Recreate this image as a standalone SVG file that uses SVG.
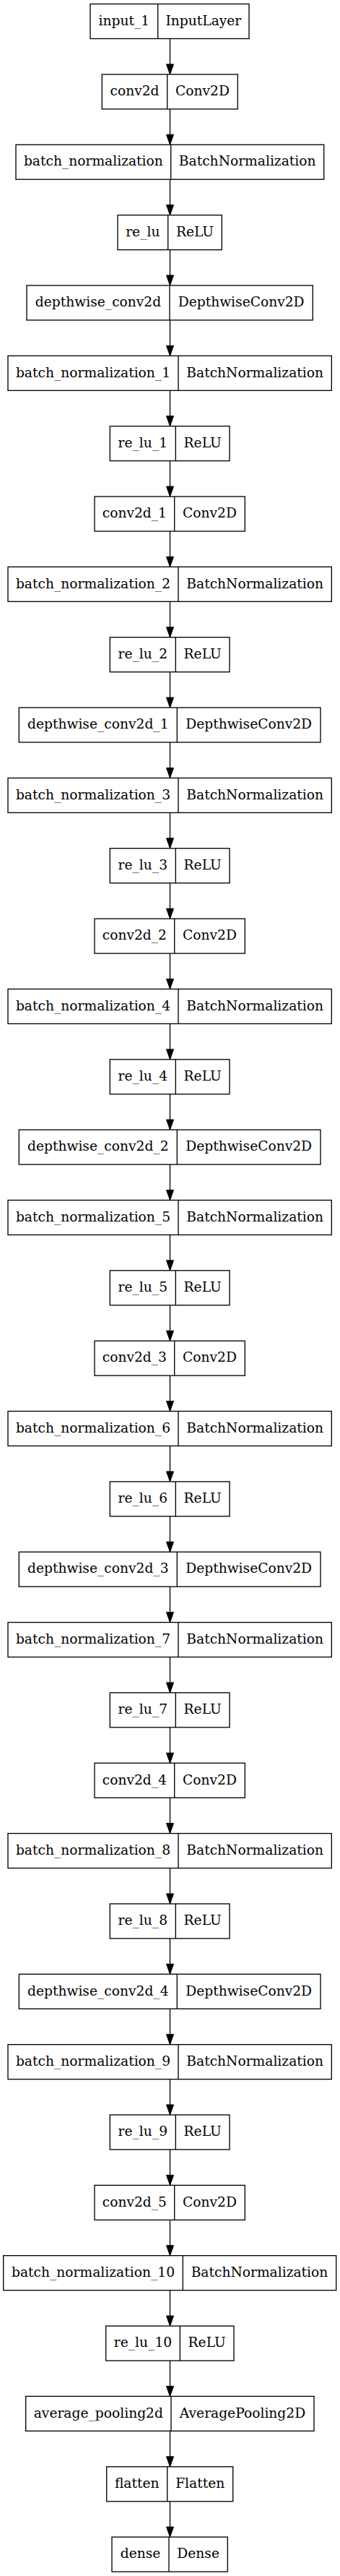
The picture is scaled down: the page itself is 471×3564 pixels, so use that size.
<svg xmlns="http://www.w3.org/2000/svg" width="471" height="3564" viewBox="0 0 471 3564">
<defs>
<style>
.n rect{fill:#fff;stroke:#000;stroke-width:1.33}
.n line{stroke:#000;stroke-width:1.33}
.n text{font-family:"DejaVu Serif",serif;font-size:18.67px;text-anchor:middle;fill:#000}
#edges path{fill:none;stroke:#000;stroke-width:1.33;marker-end:url(#ah)}
</style>
<marker id="ah" markerUnits="userSpaceOnUse" markerWidth="14" markerHeight="10" refX="14" refY="5" orient="auto" overflow="visible"><path d="M0,0L14,5L0,10z" fill="#000" stroke="#000" stroke-width="1"/></marker>
</defs>
<rect width="471" height="3564" fill="#fff"/>
<g id="edges">
<path d="M235.5,53.5V102.9"/>
<path d="M235.5,150.9V200.2"/>
<path d="M235.5,248.2V297.6"/>
<path d="M235.5,345.6V394.9"/>
<path d="M235.5,442.9V492.3"/>
<path d="M235.5,540.3V589.6"/>
<path d="M235.5,637.6V687"/>
<path d="M235.5,735V784.3"/>
<path d="M235.5,832.3V881.7"/>
<path d="M235.5,929.7V979"/>
<path d="M235.5,1027V1076.4"/>
<path d="M235.5,1124.4V1173.7"/>
<path d="M235.5,1221.7V1271.1"/>
<path d="M235.5,1319.1V1368.4"/>
<path d="M235.5,1416.4V1465.8"/>
<path d="M235.5,1513.8V1563.1"/>
<path d="M235.5,1611.1V1660.5"/>
<path d="M235.5,1708.5V1757.8"/>
<path d="M235.5,1805.8V1855.2"/>
<path d="M235.5,1903.2V1952.5"/>
<path d="M235.5,2000.5V2049.9"/>
<path d="M235.5,2097.9V2147.2"/>
<path d="M235.5,2195.2V2244.6"/>
<path d="M235.5,2292.6V2341.9"/>
<path d="M235.5,2389.9V2439.3"/>
<path d="M235.5,2487.3V2536.6"/>
<path d="M235.5,2584.6V2634"/>
<path d="M235.5,2682V2731.3"/>
<path d="M235.5,2779.3V2828.7"/>
<path d="M235.5,2876.7V2926"/>
<path d="M235.5,2974V3023.4"/>
<path d="M235.5,3071.4V3120.7"/>
<path d="M235.5,3168.7V3218.1"/>
<path d="M235.5,3266.1V3315.4"/>
<path d="M235.5,3363.4V3412.8"/>
<path d="M235.5,3460.8V3510.1"/>
</g>
<g id="input_1" class="n" transform="translate(0,5.5)"><rect x="125" y="0" width="220" height="48"/><line x1="218.7" y1="0" x2="218.7" y2="48"/><text x="171.85" y="29.3">input_1</text><text x="281.85" y="29.3">InputLayer</text></g>
<g id="conv2d" class="n" transform="translate(0,102.9)"><rect x="141.3" y="0" width="188" height="48"/><line x1="231.7" y1="0" x2="231.7" y2="48"/><text x="186.5" y="29.3">conv2d</text><text x="280.5" y="29.3">Conv2D</text></g>
<g id="batch_normalization" class="n" transform="translate(0,200.2)"><rect x="22" y="0" width="426.7" height="48"/><line x1="236.7" y1="0" x2="236.7" y2="48"/><text x="129.35" y="29.3">batch_normalization</text><text x="342.7" y="29.3">BatchNormalization</text></g>
<g id="re_lu" class="n" transform="translate(0,297.6)"><rect x="163" y="0" width="144.3" height="48"/><line x1="232.7" y1="0" x2="232.7" y2="48"/><text x="197.85" y="29.3">re_lu</text><text x="270" y="29.3">ReLU</text></g>
<g id="depthwise_conv2d" class="n" transform="translate(0,394.9)"><rect x="37" y="0" width="396.3" height="48"/><line x1="235" y1="0" x2="235" y2="48"/><text x="136" y="29.3">depthwise_conv2d</text><text x="334.15" y="29.3">DepthwiseConv2D</text></g>
<g id="batch_normalization_1" class="n" transform="translate(0,492.3)"><rect x="11" y="0" width="448.3" height="48"/><line x1="247" y1="0" x2="247" y2="48"/><text x="129" y="29.3">batch_normalization_1</text><text x="353.15" y="29.3">BatchNormalization</text></g>
<g id="re_lu_1" class="n" transform="translate(0,589.6)"><rect x="152.3" y="0" width="165.7" height="48"/><line x1="243.3" y1="0" x2="243.3" y2="48"/><text x="197.8" y="29.3">re_lu_1</text><text x="280.65" y="29.3">ReLU</text></g>
<g id="conv2d_1" class="n" transform="translate(0,687)"><rect x="131" y="0" width="208.3" height="48"/><line x1="241.7" y1="0" x2="241.7" y2="48"/><text x="186.35" y="29.3">conv2d_1</text><text x="290.5" y="29.3">Conv2D</text></g>
<g id="batch_normalization_2" class="n" transform="translate(0,784.3)"><rect x="11" y="0" width="448.3" height="48"/><line x1="247" y1="0" x2="247" y2="48"/><text x="129" y="29.3">batch_normalization_2</text><text x="353.15" y="29.3">BatchNormalization</text></g>
<g id="re_lu_2" class="n" transform="translate(0,881.7)"><rect x="152.3" y="0" width="165.7" height="48"/><line x1="243.3" y1="0" x2="243.3" y2="48"/><text x="197.8" y="29.3">re_lu_2</text><text x="280.65" y="29.3">ReLU</text></g>
<g id="depthwise_conv2d_1" class="n" transform="translate(0,979)"><rect x="26.3" y="0" width="417.7" height="48"/><line x1="245.3" y1="0" x2="245.3" y2="48"/><text x="135.8" y="29.3">depthwise_conv2d_1</text><text x="344.65" y="29.3">DepthwiseConv2D</text></g>
<g id="batch_normalization_3" class="n" transform="translate(0,1076.4)"><rect x="11" y="0" width="448.3" height="48"/><line x1="247" y1="0" x2="247" y2="48"/><text x="129" y="29.3">batch_normalization_3</text><text x="353.15" y="29.3">BatchNormalization</text></g>
<g id="re_lu_3" class="n" transform="translate(0,1173.7)"><rect x="152.3" y="0" width="165.7" height="48"/><line x1="243.3" y1="0" x2="243.3" y2="48"/><text x="197.8" y="29.3">re_lu_3</text><text x="280.65" y="29.3">ReLU</text></g>
<g id="conv2d_2" class="n" transform="translate(0,1271.1)"><rect x="131" y="0" width="208.3" height="48"/><line x1="241.7" y1="0" x2="241.7" y2="48"/><text x="186.35" y="29.3">conv2d_2</text><text x="290.5" y="29.3">Conv2D</text></g>
<g id="batch_normalization_4" class="n" transform="translate(0,1368.4)"><rect x="11" y="0" width="448.3" height="48"/><line x1="247" y1="0" x2="247" y2="48"/><text x="129" y="29.3">batch_normalization_4</text><text x="353.15" y="29.3">BatchNormalization</text></g>
<g id="re_lu_4" class="n" transform="translate(0,1465.8)"><rect x="152.3" y="0" width="165.7" height="48"/><line x1="243.3" y1="0" x2="243.3" y2="48"/><text x="197.8" y="29.3">re_lu_4</text><text x="280.65" y="29.3">ReLU</text></g>
<g id="depthwise_conv2d_2" class="n" transform="translate(0,1563.1)"><rect x="26.3" y="0" width="417.7" height="48"/><line x1="245.3" y1="0" x2="245.3" y2="48"/><text x="135.8" y="29.3">depthwise_conv2d_2</text><text x="344.65" y="29.3">DepthwiseConv2D</text></g>
<g id="batch_normalization_5" class="n" transform="translate(0,1660.5)"><rect x="11" y="0" width="448.3" height="48"/><line x1="247" y1="0" x2="247" y2="48"/><text x="129" y="29.3">batch_normalization_5</text><text x="353.15" y="29.3">BatchNormalization</text></g>
<g id="re_lu_5" class="n" transform="translate(0,1757.8)"><rect x="152.3" y="0" width="165.7" height="48"/><line x1="243.3" y1="0" x2="243.3" y2="48"/><text x="197.8" y="29.3">re_lu_5</text><text x="280.65" y="29.3">ReLU</text></g>
<g id="conv2d_3" class="n" transform="translate(0,1855.2)"><rect x="131" y="0" width="208.3" height="48"/><line x1="241.7" y1="0" x2="241.7" y2="48"/><text x="186.35" y="29.3">conv2d_3</text><text x="290.5" y="29.3">Conv2D</text></g>
<g id="batch_normalization_6" class="n" transform="translate(0,1952.5)"><rect x="11" y="0" width="448.3" height="48"/><line x1="247" y1="0" x2="247" y2="48"/><text x="129" y="29.3">batch_normalization_6</text><text x="353.15" y="29.3">BatchNormalization</text></g>
<g id="re_lu_6" class="n" transform="translate(0,2049.9)"><rect x="152.3" y="0" width="165.7" height="48"/><line x1="243.3" y1="0" x2="243.3" y2="48"/><text x="197.8" y="29.3">re_lu_6</text><text x="280.65" y="29.3">ReLU</text></g>
<g id="depthwise_conv2d_3" class="n" transform="translate(0,2147.2)"><rect x="26.3" y="0" width="417.7" height="48"/><line x1="245.3" y1="0" x2="245.3" y2="48"/><text x="135.8" y="29.3">depthwise_conv2d_3</text><text x="344.65" y="29.3">DepthwiseConv2D</text></g>
<g id="batch_normalization_7" class="n" transform="translate(0,2244.6)"><rect x="11" y="0" width="448.3" height="48"/><line x1="247" y1="0" x2="247" y2="48"/><text x="129" y="29.3">batch_normalization_7</text><text x="353.15" y="29.3">BatchNormalization</text></g>
<g id="re_lu_7" class="n" transform="translate(0,2341.9)"><rect x="152.3" y="0" width="165.7" height="48"/><line x1="243.3" y1="0" x2="243.3" y2="48"/><text x="197.8" y="29.3">re_lu_7</text><text x="280.65" y="29.3">ReLU</text></g>
<g id="conv2d_4" class="n" transform="translate(0,2439.3)"><rect x="131" y="0" width="208.3" height="48"/><line x1="241.7" y1="0" x2="241.7" y2="48"/><text x="186.35" y="29.3">conv2d_4</text><text x="290.5" y="29.3">Conv2D</text></g>
<g id="batch_normalization_8" class="n" transform="translate(0,2536.6)"><rect x="11" y="0" width="448.3" height="48"/><line x1="247" y1="0" x2="247" y2="48"/><text x="129" y="29.3">batch_normalization_8</text><text x="353.15" y="29.3">BatchNormalization</text></g>
<g id="re_lu_8" class="n" transform="translate(0,2634)"><rect x="152.3" y="0" width="165.7" height="48"/><line x1="243.3" y1="0" x2="243.3" y2="48"/><text x="197.8" y="29.3">re_lu_8</text><text x="280.65" y="29.3">ReLU</text></g>
<g id="depthwise_conv2d_4" class="n" transform="translate(0,2731.3)"><rect x="26.3" y="0" width="417.7" height="48"/><line x1="245.3" y1="0" x2="245.3" y2="48"/><text x="135.8" y="29.3">depthwise_conv2d_4</text><text x="344.65" y="29.3">DepthwiseConv2D</text></g>
<g id="batch_normalization_9" class="n" transform="translate(0,2828.7)"><rect x="11" y="0" width="448.3" height="48"/><line x1="247" y1="0" x2="247" y2="48"/><text x="129" y="29.3">batch_normalization_9</text><text x="353.15" y="29.3">BatchNormalization</text></g>
<g id="re_lu_9" class="n" transform="translate(0,2926)"><rect x="152.3" y="0" width="165.7" height="48"/><line x1="243.3" y1="0" x2="243.3" y2="48"/><text x="197.8" y="29.3">re_lu_9</text><text x="280.65" y="29.3">ReLU</text></g>
<g id="conv2d_5" class="n" transform="translate(0,3023.4)"><rect x="131" y="0" width="208.3" height="48"/><line x1="241.7" y1="0" x2="241.7" y2="48"/><text x="186.35" y="29.3">conv2d_5</text><text x="290.5" y="29.3">Conv2D</text></g>
<g id="batch_normalization_10" class="n" transform="translate(0,3120.7)"><rect x="4.7" y="0" width="461" height="48"/><line x1="253.3" y1="0" x2="253.3" y2="48"/><text x="129" y="29.3">batch_normalization_10</text><text x="359.5" y="29.3">BatchNormalization</text></g>
<g id="re_lu_10" class="n" transform="translate(0,3218.1)"><rect x="146.7" y="0" width="177.3" height="48"/><line x1="249.3" y1="0" x2="249.3" y2="48"/><text x="198" y="29.3">re_lu_10</text><text x="286.65" y="29.3">ReLU</text></g>
<g id="average_pooling2d" class="n" transform="translate(0,3315.4)"><rect x="35.7" y="0" width="399.3" height="48"/><line x1="237" y1="0" x2="237" y2="48"/><text x="136.35" y="29.3">average_pooling2d</text><text x="336" y="29.3">AveragePooling2D</text></g>
<g id="flatten" class="n" transform="translate(0,3412.8)"><rect x="147.7" y="0" width="175" height="48"/><line x1="231.7" y1="0" x2="231.7" y2="48"/><text x="189.7" y="29.3">flatten</text><text x="277.2" y="29.3">Flatten</text></g>
<g id="dense" class="n" transform="translate(0,3510.1)"><rect x="155" y="0" width="160.3" height="48"/><line x1="234" y1="0" x2="234" y2="48"/><text x="194.5" y="29.3">dense</text><text x="274.65" y="29.3">Dense</text></g>
</svg>
